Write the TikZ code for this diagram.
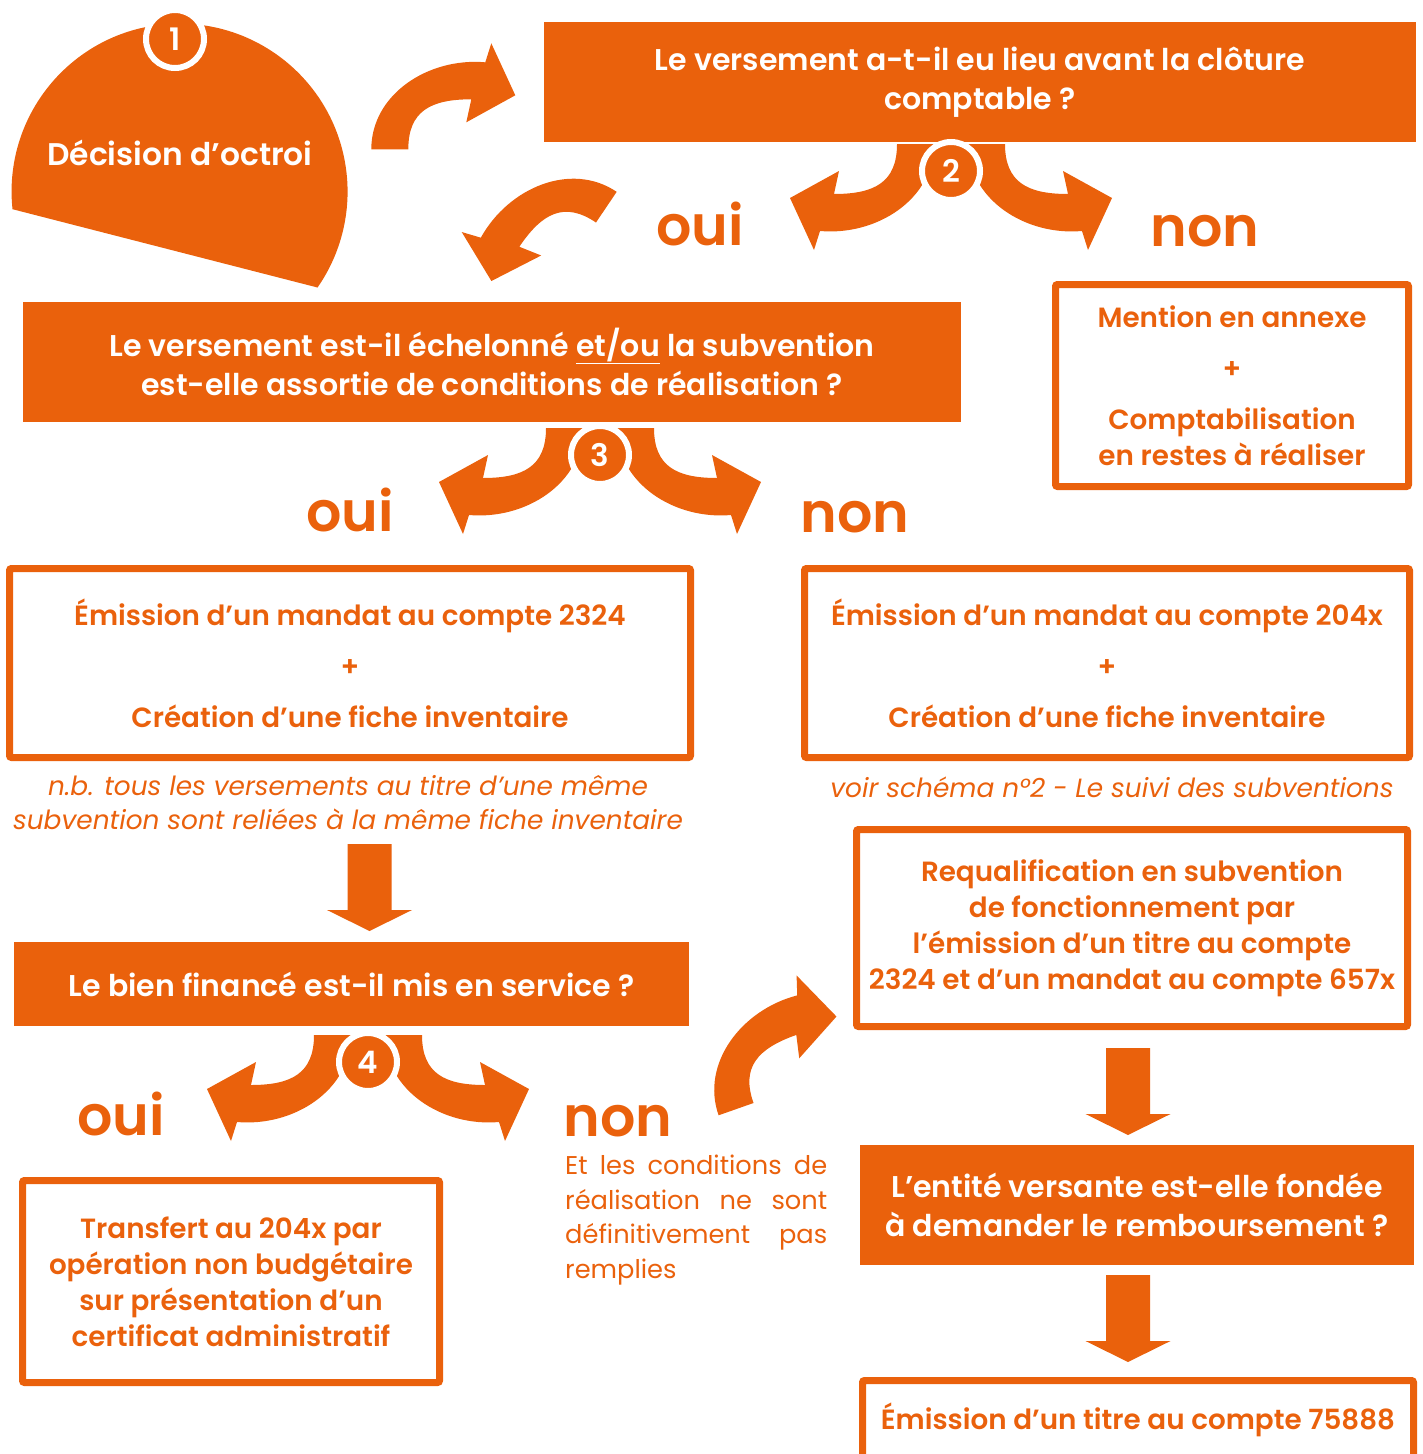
\documentclass[tikz,border=0pt]{standalone}
\usepackage{fontspec}
\setmainfont{Poppins}[BoldFont={Poppins SemiBold}]
\definecolor{vorange}{RGB}{234,97,12}
\tikzset{
  courbe/.pic={\fill[vorange] (0,0) .. controls (0,38) and (-22,50) .. (-63,50) -- (-58,27) -- (-107,54) -- (-83,106) -- (-77,87) .. controls (-20,92) and (37,55) .. (37,0) -- cycle;},
  fbas/.pic={\fill[vorange] (-22,0) -- (22,0) -- (22,66) -- (42.5,66) -- (0,87) -- (-42.5,66) -- (-22,66) -- cycle;}
}

\begin{document}
\begin{tikzpicture}[x=1pt,y=-1pt,
  plein/.style={fill=vorange, text=white, font=\bfseries\fontsize{30}{39}\selectfont, align=center, inner sep=0pt},
  cadre/.style={draw=vorange, line width=7pt, rounded corners=2pt, text=vorange, font=\bfseries\fontsize{27.8}{36}\selectfont, align=center, inner sep=0pt},
  rep/.style={text=vorange, font=\bfseries\fontsize{55.5}{60}\selectfont, anchor=base},
  pastille/.style={circle, fill=vorange, draw=white, line width=6pt, minimum size=58pt, inner sep=0pt, text=white, font=\bfseries\fontsize{31}{31}\selectfont},
  note/.style={text=vorange, font=\itshape\fontsize{26.4}{34}\selectfont, align=center}]
\useasboundingbox (0,0) rectangle (1422,1454);
\clip (0,0) rectangle (1422,1454);

% decision
\fill[vorange] (12.5,209.2) arc[start angle=174, end angle=394.8, radius=168] -- cycle;
\node[text=white, font=\bfseries\fontsize{31.3}{32}\selectfont] (d) at (180,153) {Décision d’octroi};

% fleches courbes
\pic[rotate=180] at (408.3,149.3) {courbe};
\pic[rotate=-124, xscale=-1] at (596,222.5) {courbe};
\pic[rotate=-160.6] at (753.5,1103) {courbe};
\foreach \bx/\by in {951/171, 600/455, 368/1062}{
  \pic at (\bx-54,\by-27) {courbe};
  \pic[xscale=-1] at (\bx+54,\by-27) {courbe};
}

% fleches droites
\pic at (369.5,844) {fbas};
\pic at (1128,1048) {fbas};
\pic at (1128,1275) {fbas};

% questions
\node[plein, minimum width=872pt, minimum height=120pt] (q1) at (980,82) {Le versement a-t-il eu lieu avant la clôture\\comptable ?};
\node[plein, minimum width=938pt, minimum height=120pt] (q2) at (492,362) {Le versement est-il échelonné \underline{et/ou} la subvention\\est-elle assortie de conditions de réalisation ?};
\node[plein, minimum width=675pt, minimum height=84pt] (q3) at (351.5,984) {Le bien financé est-il mis en service ?};
\node[plein, minimum width=554pt, minimum height=120pt] (q4) at (1137,1205) {L’entité versante est-elle fondée\\à demander le remboursement ?};

% reponses
\node[cadre, minimum width=353pt, minimum height=202pt] (r1) at (1232,385.5) {Mention en annexe\\[15pt]+\\[15pt]Comptabilisation\\en restes à réaliser};
\node[cadre, minimum width=681pt, minimum height=189pt] (r2) at (350,663) {Émission d’un mandat au compte 2324\\[15pt]+\\[15pt]Création d’une fiche inventaire};
\node[cadre, minimum width=605pt, minimum height=189pt] (r3) at (1107,663) {Émission d’un mandat au compte 204x\\[15pt]+\\[15pt]Création d’une fiche inventaire};
\node[cadre, minimum width=551pt, minimum height=197pt] (r4) at (1132,928) {Requalification en subvention\\de fonctionnement par\\l’émission d’un titre au compte\\2324 et d’un mandat au compte 657x};
\node[cadre, minimum width=417pt, minimum height=202pt] (r5) at (231,1281.5) {Transfert au 204x par\\opération non budgétaire\\sur présentation d’un\\certificat administratif};
\draw[vorange, line width=7pt, rounded corners=2pt] (862.5,1520) -- (862.5,1380.5) -- (1413.5,1380.5) -- (1413.5,1520);
\node[text=vorange, font=\bfseries\fontsize{27.8}{36}\selectfont] (r6) at (1138,1420) {Émission d’un titre au compte 75888};

% notes
\node[note] (n1) at (348,803) {n.b. tous les versements au titre d’une même\\subvention sont reliées à la même fiche inventaire};
\node[note] (n2) at (1112,787) {voir schéma n°2 - Le suivi des subventions};
\node[text=vorange, font=\fontsize{25.7}{34.5}\selectfont, text width=262pt, align=justify, inner sep=0pt, anchor=north west] (n3) at (565,1155) {Et les conditions de réalisation ne sont définitivement pas remplies};

% oui / non
\node[rep] (o1) at (700,245) {oui};
\node[rep] (x1) at (1205,246) {non};
\node[rep] (o2) at (350,531) {oui};
\node[rep] (x2) at (855,532) {non};
\node[rep] (o3) at (121,1135) {oui};
\node[rep] (x3) at (618,1136) {non};

% pastilles
\node[pastille] (p1) at (175,39) {1};
\foreach \bx/\by/\nn in {951/171/2, 600/455/3, 368/1062/4}
  \node[pastille] (p\nn) at (\bx,\by) {\nn};

\end{tikzpicture}
\end{document}
